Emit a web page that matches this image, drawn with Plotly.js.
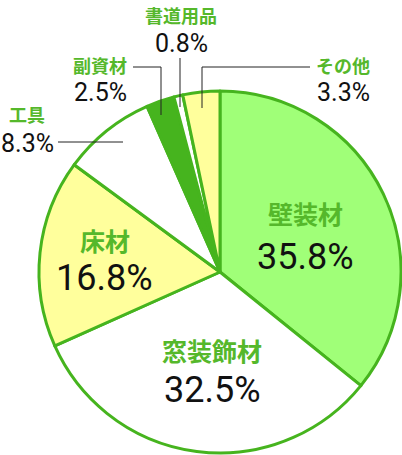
<!DOCTYPE html>
<html>
<head>
<meta charset="utf-8">
<script src="https://cdn.plot.ly/plotly-3.0.1.min.js"></script>
<style>
  html, body { margin: 0; padding: 0; background: #fff; }
  #chart { width: 402px; height: 455px; }
</style>
</head>
<body>
<div id="chart"></div>
<script>
// 品目別構成比（時計回り、12時から）
const categories = ['壁装材', '窓装飾材', '床材', '工具', '副資材', '書道用品', 'その他'];
const shares = [35.8, 32.5, 16.8, 8.3, 2.5, 0.8, 3.3];
const sliceColors = ['#a0ff78', '#ffffff', '#ffff9c', '#ffffff', '#46b41e', '#ffffff', '#ffff9c'];

const W = 402, H = 455;
const green = '#46b41e';
const labelGreen = '#55b82b';

// label anchor positions in pixels (label line, value line)
const labelPos = [
  { x: 305, y: 213, vy: 257, big: true },
  { x: 212, y: 350, vy: 390, big: true },
  { x: 105, y: 240, vy: 278, big: true },
  { x: 27,  y: 114, vy: 143, big: false },
  { x: 100, y: 65,  vy: 93,  big: false },
  { x: 181, y: 15,  vy: 43,  big: false },
  { x: 343, y: 65,  vy: 93,  big: false }
];

// leader lines, pixel polylines
const leaders = [
  [[58, 142], [123, 142]],
  [[133, 67], [161, 67], [161, 115]],
  [[180, 58], [180, 107]],
  [[310, 67], [202, 67], [202, 108]]
];

const px = x => x / W;
const py = y => 1 - y / H;

const annotations = [];
categories.forEach((name, i) => {
  const p = labelPos[i];
  annotations.push({
    xref: 'paper', yref: 'paper', x: px(p.x), y: py(p.y),
    xanchor: 'center', yanchor: 'middle', showarrow: false,
    text: '<b>' + name + '</b>',
    font: { family: '"Noto Sans CJK JP", sans-serif', size: p.big ? 25 : 18, color: labelGreen }
  });
  annotations.push({
    xref: 'paper', yref: 'paper', x: px(p.x), y: py(p.vy),
    xanchor: 'center', yanchor: 'middle', showarrow: false,
    text: shares[i].toFixed(1) + '%',
    font: { family: 'Roboto, sans-serif', size: p.big ? 36 : 25, color: '#111' }
  });
});

const shapes = leaders.map(pts => ({
  type: 'path', xref: 'paper', yref: 'paper',
  path: pts.map((pt, k) => (k ? 'L' : 'M') + px(pt[0]) + ',' + py(pt[1])).join(' '),
  line: { color: '#222', width: 1 }
}));

const trace = {
  type: 'pie',
  labels: categories,
  values: shares,
  sort: false,
  direction: 'clockwise',
  rotation: 0,
  textinfo: 'none',
  hoverinfo: 'label+percent',
  marker: { colors: sliceColors, line: { color: green, width: 3 } },
  domain: { x: [39 / W, 401 / W], y: [py(453), py(91)] }
};

const layout = {
  width: W,
  height: H,
  margin: { l: 0, r: 0, t: 0, b: 0 },
  showlegend: false,
  paper_bgcolor: '#fff',
  annotations,
  shapes
};

Plotly.newPlot('chart', [trace], layout, { displayModeBar: false, staticPlot: true });
</script>
</body>
</html>
